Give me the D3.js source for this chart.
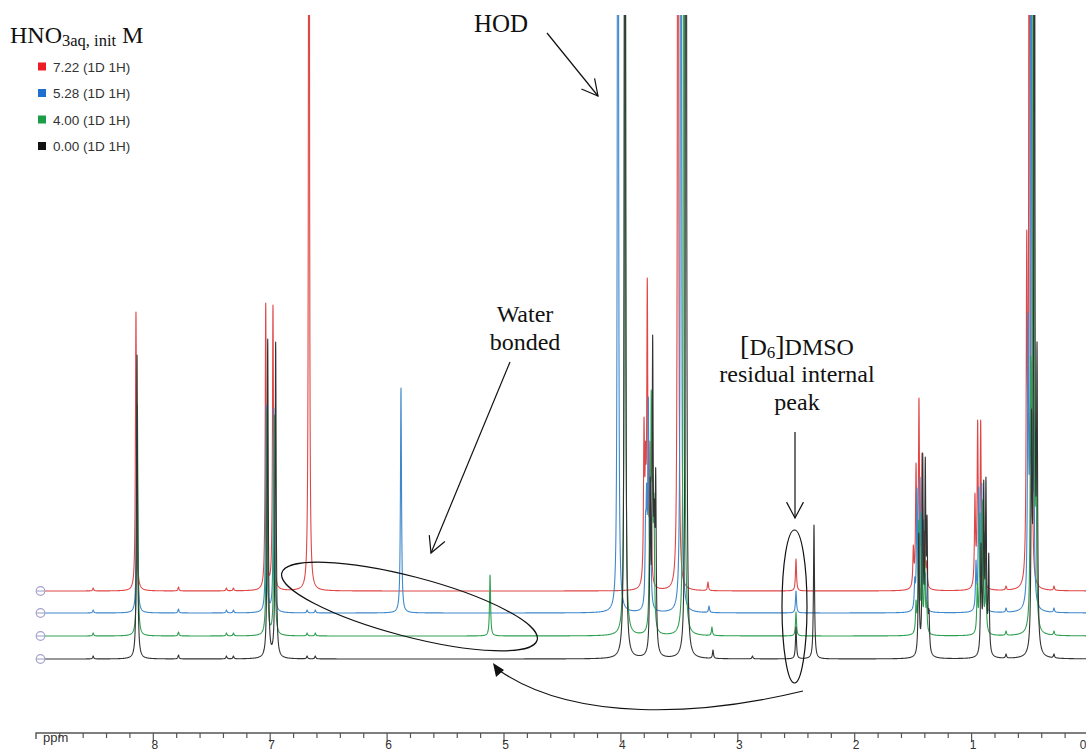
<!DOCTYPE html>
<html><head><meta charset="utf-8">
<script src="https://cdn.jsdelivr.net/npm/d3@7"></script>
<style>
html,body{margin:0;padding:0;background:#fff;}
svg{display:block;}
</style></head><body>
<svg id="chart" width="1086" height="754"></svg>
<script>
// ---------------- DATA ----------------
const legendTitle = "HNO";
const legendTitleSub = "3aq, init";
const legendTitleUnit = " M";
const seriesNames = ["7.22 (1D 1H)", "5.28 (1D 1H)", "4.00 (1D 1H)", "0.00 (1D 1H)"];

// peak lists: [chemical shift (ppm), observed peak-top intensity (a.u.)]
const peaksRed = [
  [8.51, 3], [8.144, 279], [7.78, 4], [7.37, 3], [7.31, 3], [7.034, 288], [6.972, 286],
  [6.664, 1500], [3.798, 174], [3.785, 150], [3.770, 313], [3.747, 150], [3.735, 70],
  [3.507, 2000], [3.251, 9], [2.498, 32], [1.494, 46], [1.471, 128], [1.446, 193],
  [1.420, 138], [1.397, 60], [1.380, 30], [0.967, 98], [0.944, 171], [0.918, 171],
  [0.896, 91], [0.701, 5], [0.524, 361], [0.502, 1500], [0.479, 230], [0.291, 5]
];
const peaksBlue = [
  [8.51, 3], [8.135, 200], [7.78, 4], [7.37, 3], [7.31, 3], [7.030, 208], [6.965, 205],
  [6.68, 3], [6.61, 3], [5.877, 225], [4.021, 2000], [3.785, 100], [3.776, 130],
  [3.761, 216], [3.742, 110], [3.482, 2000], [3.242, 7], [2.498, 22], [1.482, 36],
  [1.463, 125], [1.437, 136], [1.409, 93], [1.390, 40], [0.958, 53], [0.935, 126],
  [0.909, 130], [0.887, 80], [0.701, 5], [0.513, 300], [0.488, 1500], [0.464, 200], [0.291, 5]
];
const peaksGreen = [
  [8.51, 3], [8.132, 231], [7.78, 4], [7.37, 3], [7.31, 3], [7.025, 226], [6.960, 221],
  [6.68, 3], [6.61, 3], [5.115, 61], [3.961, 2000], [3.750, 130], [3.736, 246],
  [3.725, 160], [3.713, 143], [3.456, 2000], [3.217, 9], [2.498, 24], [1.471, 36],
  [1.448, 116], [1.423, 123], [1.397, 86], [1.380, 35], [0.947, 53], [0.924, 123],
  [0.901, 136], [0.875, 79], [0.701, 5], [0.490, 280], [0.468, 1500], [0.445, 200], [0.291, 5]
];
const peaksBlack = [
  [8.51, 3], [8.135, 304], [7.78, 4], [7.37, 3], [7.31, 3], [7.017, 320], [6.949, 317],
  [6.68, 3], [6.61, 3], [3.961, 2200], [3.745, 182], [3.724, 324], [3.710, 160],
  [3.698, 191], [3.439, 2200], [3.208, 9], [2.87, 3], [2.498, 32], [2.344, 134],
  [1.448, 126], [1.414, 206], [1.392, 202], [1.377, 144], [1.360, 50], [0.915, 116],
  [0.892, 179], [0.873, 182], [0.849, 106], [0.701, 5], [0.483, 250], [0.459, 1500],
  [0.436, 317], [0.291, 5]
];
const majorTicks = [8, 7, 6, 5, 4, 3, 2, 1, 0];
const axisUnit = "ppm";

// ---------------- STYLE / LAYOUT ----------------
const series = [
  {name: seriesNames[0], peaks: peaksRed,   line: "#e04646", swatch: "#ee1c24", offset: 68},
  {name: seriesNames[1], peaks: peaksBlue,  line: "#3f88cc", swatch: "#1f6fd1", offset: 46},
  {name: seriesNames[2], peaks: peaksGreen, line: "#2f9f52", swatch: "#1c9b48", offset: 23},
  {name: seriesNames[3], peaks: peaksBlack, line: "#333333", swatch: "#111111", offset: 0}
];
const W = 1086, H = 754;
const serif = "'Liberation Serif','Times New Roman',serif";
const sans = "'Liberation Sans',Arial,sans-serif";

const svg = d3.select("#chart");
const x = d3.scaleLinear().domain([8, 0]).range([152.8, 1088]);
const y = d3.scaleLinear().domain([0, 644]).range([659, 15]);

svg.append("defs").append("clipPath").attr("id", "plotclip")
  .append("rect").attr("x", 0).attr("y", 15).attr("width", W).attr("height", H - 15);

// Lorentzian line shape; amplitudes solved so that the summed spectrum
// reaches the observed peak-top intensities at each peak position
const widthOf = h => h > 500 ? 0.0035 : 0.0052;
function amplitudes(peaks) {
  const g = peaks.map(p => widthOf(p[1]));
  let a = peaks.map(p => p[1]);
  for (let it = 0; it < 40; it++) {
    a = peaks.map((p, i) => {
      let s = 0;
      peaks.forEach((q, j) => { if (j !== i) { const d = (p[0] - q[0]) / g[j]; s += a[j] / (1 + d * d); } });
      return Math.max(0, p[1] - s);
    });
  }
  return peaks.map((p, i) => [p[0], a[i], g[i]]);
}
const ppmStart = x.invert(45), ppmEnd = x.invert(1092);
function spectrum(peaks) {
  const comps = amplitudes(peaks);
  let pts = d3.range(ppmStart, ppmEnd, -0.002);
  peaks.forEach(p => { pts.push(p[0], p[0] + 0.0008, p[0] - 0.0008); });
  pts = pts.filter(v => v <= ppmStart && v >= ppmEnd).sort((a, b) => b - a);
  return pts.map(v => {
    let s = 0;
    for (const [c, h, g] of comps) { const d = (v - c) / g; s += h / (1 + d * d); }
    return [v, s];
  });
}

const plot = svg.append("g").attr("clip-path", "url(#plotclip)");
series.forEach(s => {
  const data = spectrum(s.peaks);
  const line = d3.line().x(d => x(d[0])).y(d => y(s.offset + d[1]));
  plot.append("path").datum(data).attr("d", line)
    .attr("fill", "none").attr("stroke", s.line).attr("stroke-width", 1.1)
    .attr("stroke-linejoin", "round");
});

// baseline markers
series.forEach(s => {
  const cy = y(s.offset);
  svg.append("circle").attr("cx", 40.5).attr("cy", cy).attr("r", 4.3)
    .attr("fill", "#fff").attr("stroke", "#a3a3cc").attr("stroke-width", 1.2);
  svg.append("line").attr("x1", 36.5).attr("x2", 44.5).attr("y1", cy).attr("y2", cy)
    .attr("stroke", "#a3a3cc").attr("stroke-width", 1.1);
});

// ---------------- AXIS ----------------
const axisY = 733;
const minorTicks = d3.range(8.8, 0.1, -0.2).map(v => Math.round(v * 10) / 10)
  .filter(v => Math.abs(v - Math.round(v)) > 0.01);
const gMinor = svg.append("g").attr("transform", `translate(0,${axisY})`)
  .call(d3.axisBottom(x).tickValues(minorTicks).tickSize(5).tickFormat(""));
const gMajor = svg.append("g").attr("transform", `translate(0,${axisY})`)
  .call(d3.axisBottom(x).tickValues(majorTicks).tickSize(9).tickFormat(d3.format("d")));
[gMinor, gMajor].forEach(g => {
  g.select(".domain").remove();
  g.selectAll(".tick line").attr("stroke", "#555").attr("stroke-width", 1.2);
});
gMajor.selectAll(".tick text").attr("y", 16).attr("dy", 0)
  .attr("font-family", sans).attr("font-size", 12).attr("fill", "#333")
  .attr("text-anchor", d => d === 0 ? "end" : "middle")
  .attr("x", d => d === 0 ? -2 : 1.5);
svg.append("path").attr("d", `M36,${axisY + 6}V${axisY}H${W}`)
  .attr("fill", "none").attr("stroke", "#555").attr("stroke-width", 1.4);
svg.append("text").attr("x", 43).attr("y", 742).text(axisUnit)
  .attr("font-family", sans).attr("font-size", 13).attr("fill", "#333");

// ---------------- LEGEND ----------------
const lt = svg.append("text").attr("x", 10).attr("y", 43)
  .attr("font-family", serif).attr("font-size", 24).attr("fill", "#111");
lt.append("tspan").text(legendTitle);
lt.append("tspan").attr("font-size", 16.5).attr("dy", 3).text(legendTitleSub);
lt.append("tspan").attr("dy", -3).text(legendTitleUnit);

series.forEach((s, i) => {
  const cy = 66.5 + i * 26.5;
  svg.append("rect").attr("x", 38).attr("y", cy - 4).attr("width", 8).attr("height", 8)
    .attr("fill", s.swatch);
  svg.append("text").attr("x", 53).attr("y", cy + 5).text(s.name)
    .attr("font-family", sans).attr("font-size", 13.5).attr("fill", "#333");
});

// ---------------- ANNOTATIONS ----------------
const ann = svg.append("g").attr("fill", "none").attr("stroke", "#111").attr("stroke-width", 1.2);
function arrow(x1, y1, x2, y2) {
  ann.append("line").attr("x1", x1).attr("y1", y1).attr("x2", x2).attr("y2", y2);
  const th = Math.atan2(y2 - y1, x2 - x1), L = 18, ph = 28 * Math.PI / 180;
  const a1 = [x2 - L * Math.cos(th - ph), y2 - L * Math.sin(th - ph)];
  const a2 = [x2 - L * Math.cos(th + ph), y2 - L * Math.sin(th + ph)];
  ann.append("path").attr("d", `M${a1}L${x2},${y2}L${a2}`);
}
function label(lines, cx, ys, size) {
  lines.forEach((t, i) => svg.append("text").attr("x", cx).attr("y", ys[i])
    .attr("text-anchor", "middle").attr("font-family", serif).attr("font-size", size)
    .attr("fill", "#111").text(t));
}

svg.append("text").attr("x", 474).attr("y", 32).text("HOD")
  .attr("font-family", serif).attr("font-size", 25).attr("fill", "#111");
arrow(547, 33, 598, 96);

label(["Water", "bonded"], 525, [322, 350], 24);
arrow(510, 362, 431, 553);
ann.append("ellipse").attr("cx", 0).attr("cy", 0).attr("rx", 132).attr("ry", 30)
  .attr("transform", "translate(409.5,606.5) rotate(14.7)");

const dm = svg.append("text").attr("x", 797).attr("y", 355).attr("text-anchor", "middle")
  .attr("font-family", serif).attr("font-size", 24).attr("fill", "#111");
dm.append("tspan").attr("font-size", 28).text("[");
dm.append("tspan").text("D");
dm.append("tspan").attr("font-size", 17).attr("dy", 3).text("6");
dm.append("tspan").attr("font-size", 28).attr("dy", -3).text("]");
dm.append("tspan").text("DMSO");
label(["residual internal", "peak"], 797, [382, 410], 24);
arrow(795, 432, 795, 518);
ann.append("ellipse").attr("cx", 794.5).attr("cy", 606.5).attr("rx", 12.5).attr("ry", 76.5);

ann.append("path").attr("d", "M803,691 C700,716 575,722 500,671");
svg.append("path").attr("d", "M493,663 L504,670 L496,677 Z").attr("fill", "#111");
</script>
</body></html>
